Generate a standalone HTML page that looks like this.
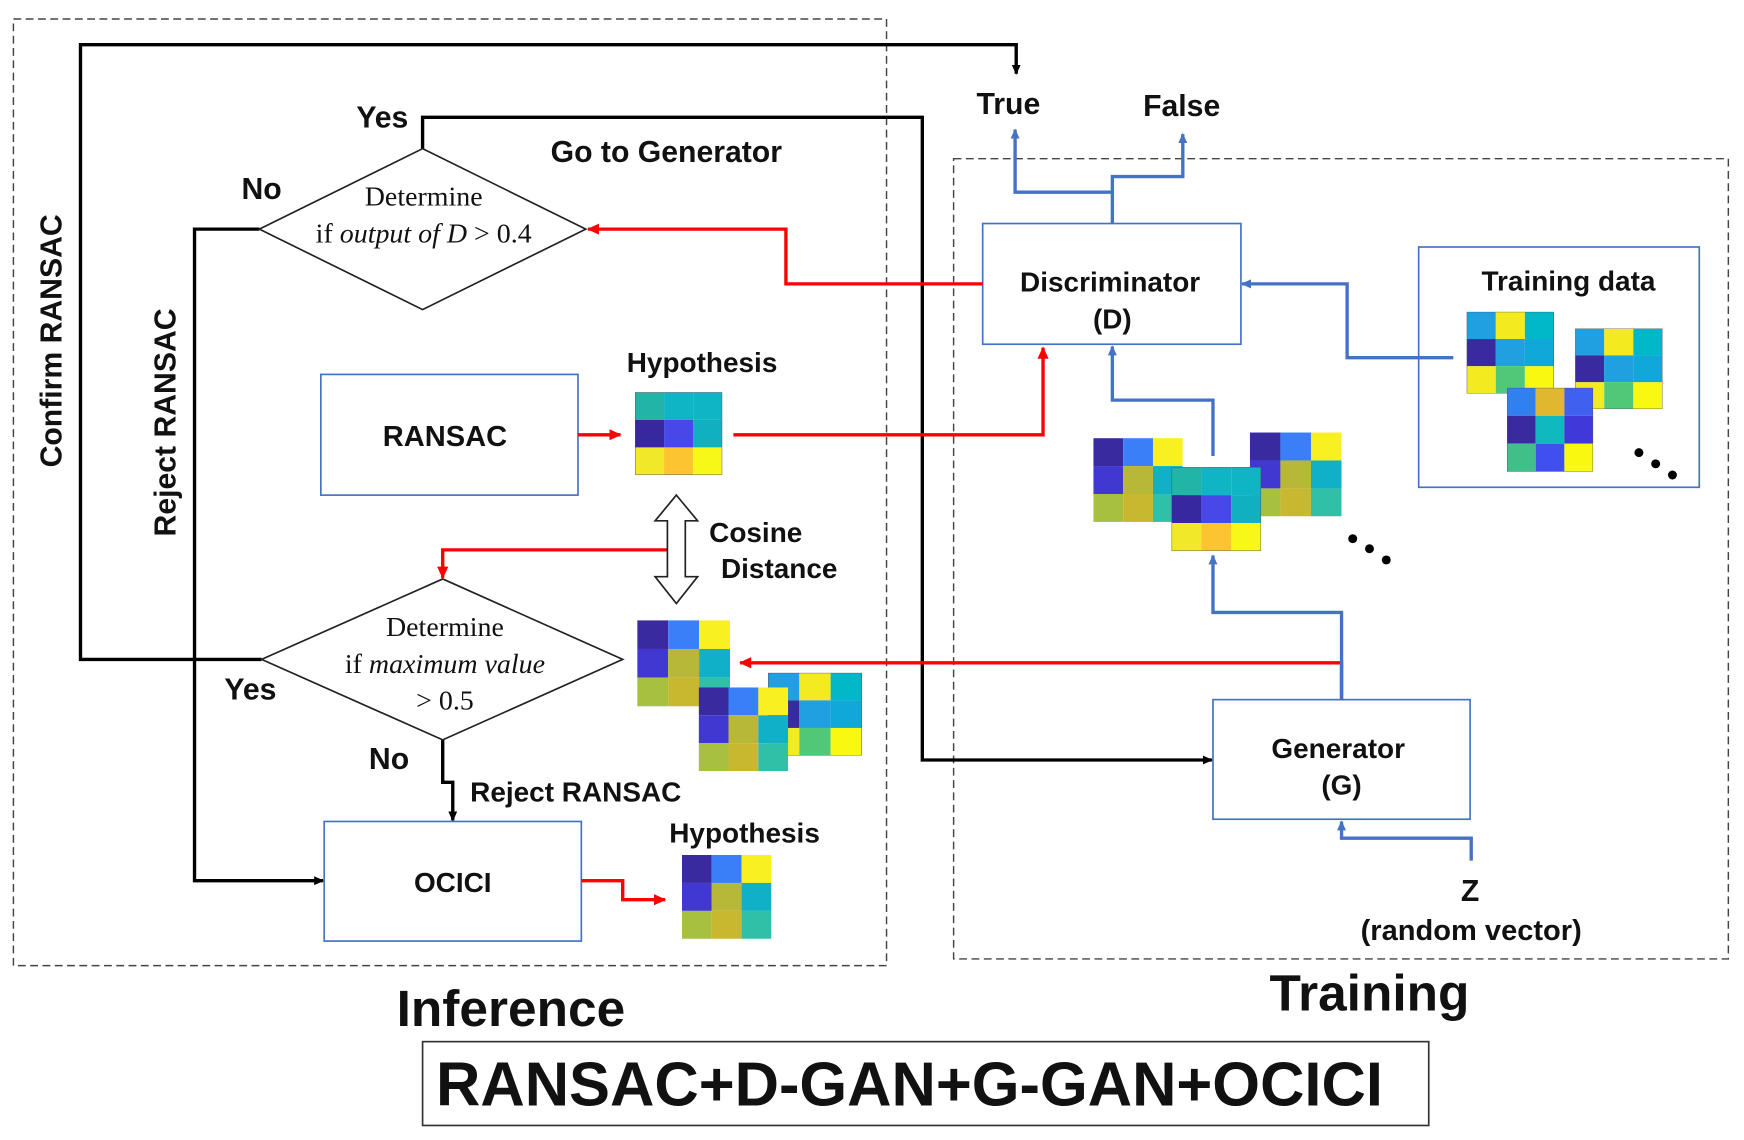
<!DOCTYPE html>
<html><head><meta charset="utf-8"><style>
html,body{margin:0;padding:0;background:#fff;}
svg{display:block;}
.b{font-family:"Liberation Sans",sans-serif;font-weight:bold;fill:#111;}
.s{font-family:"Liberation Serif",serif;fill:#111;}
</style></head><body>
<svg width="1744" height="1140" viewBox="0 0 1560 1020" preserveAspectRatio="none" xmlns="http://www.w3.org/2000/svg">
<defs>
<marker id="ak" markerWidth="10" markerHeight="10" refX="8" refY="5" orient="auto" markerUnits="userSpaceOnUse"><path d="M0,1 L9,5 L0,9z" fill="#000"/></marker>
<marker id="ar" markerWidth="12" markerHeight="12" refX="10" refY="6" orient="auto" markerUnits="userSpaceOnUse"><path d="M0,1 L11,6 L0,11z" fill="#f00"/></marker>
<marker id="ab" markerWidth="10" markerHeight="10" refX="8" refY="5" orient="auto" markerUnits="userSpaceOnUse"><path d="M0,1 L9,5 L0,9z" fill="#4472c4"/></marker>
<symbol id="mA" viewBox="0 0 3 3" preserveAspectRatio="none">
<rect x="0" y="0" width="1" height="1" fill="#22b4a6"/><rect x="1" y="0" width="1" height="1" fill="#10b5c5"/><rect x="2" y="0" width="1" height="1" fill="#10b5c5"/>
<rect x="0" y="1" width="1" height="1" fill="#3828a0"/><rect x="1" y="1" width="1" height="1" fill="#4848e8"/><rect x="2" y="1" width="1" height="1" fill="#10b0c0"/>
<rect x="0" y="2" width="1" height="1" fill="#f2e82a"/><rect x="1" y="2" width="1" height="1" fill="#fbc430"/><rect x="2" y="2" width="1" height="1" fill="#f8f818"/>
<rect x="0" y="0" width="3" height="3" fill="none" stroke="#555" stroke-width="0.03"/></symbol>
<symbol id="mB" viewBox="0 0 3 3" preserveAspectRatio="none">
<rect x="0" y="0" width="1" height="1" fill="#3a2aa0"/><rect x="1" y="0" width="1" height="1" fill="#3a7ef8"/><rect x="2" y="0" width="1" height="1" fill="#f8f020"/>
<rect x="0" y="1" width="1" height="1" fill="#4038d0"/><rect x="1" y="1" width="1" height="1" fill="#b8b838"/><rect x="2" y="1" width="1" height="1" fill="#10b0c8"/>
<rect x="0" y="2" width="1" height="1" fill="#a8c040"/><rect x="1" y="2" width="1" height="1" fill="#c8b830"/><rect x="2" y="2" width="1" height="1" fill="#30c0a8"/></symbol>
<symbol id="mC" viewBox="0 0 3 3" preserveAspectRatio="none">
<rect x="0" y="0" width="1" height="1" fill="#20a0e0"/><rect x="1" y="0" width="1" height="1" fill="#f4ea20"/><rect x="2" y="0" width="1" height="1" fill="#00b8c8"/>
<rect x="0" y="1" width="1" height="1" fill="#3a2aa0"/><rect x="1" y="1" width="1" height="1" fill="#20a0e0"/><rect x="2" y="1" width="1" height="1" fill="#10a8d8"/>
<rect x="0" y="2" width="1" height="1" fill="#f4ea20"/><rect x="1" y="2" width="1" height="1" fill="#50c878"/><rect x="2" y="2" width="1" height="1" fill="#f8f810"/>
<rect x="0" y="0" width="3" height="3" fill="none" stroke="#555" stroke-width="0.03"/></symbol>
<symbol id="mD" viewBox="0 0 3 3" preserveAspectRatio="none">
<rect x="0" y="0" width="1" height="1" fill="#3080f0"/><rect x="1" y="0" width="1" height="1" fill="#e0b830"/><rect x="2" y="0" width="1" height="1" fill="#4060f0"/>
<rect x="0" y="1" width="1" height="1" fill="#3a2aa0"/><rect x="1" y="1" width="1" height="1" fill="#10b8c0"/><rect x="2" y="1" width="1" height="1" fill="#4038d8"/>
<rect x="0" y="2" width="1" height="1" fill="#40c088"/><rect x="1" y="2" width="1" height="1" fill="#4050f0"/><rect x="2" y="2" width="1" height="1" fill="#f8f810"/>
<rect x="0" y="0" width="3" height="3" fill="none" stroke="#555" stroke-width="0.03"/></symbol>
</defs>

<rect x="12" y="17" width="781" height="847" fill="none" stroke="#444" stroke-width="1.3" stroke-dasharray="7,4"/>
<rect x="853" y="142" width="693" height="716" fill="none" stroke="#444" stroke-width="1.3" stroke-dasharray="7,4"/>

<polyline points="234,590 72,590 72,40 909,40 909,66" fill="none" stroke="#000" stroke-width="3" marker-end="url(#ak)"/>
<polyline points="378,133 378,105 825,105 825,680 1084,680" fill="none" stroke="#000" stroke-width="3" marker-end="url(#ak)"/>
<polyline points="232,205 174,205 174,788 289,788" fill="none" stroke="#000" stroke-width="3" marker-end="url(#ak)"/>
<polyline points="396,662 396,700 405,700 405,734" fill="none" stroke="#000" stroke-width="3" marker-end="url(#ak)"/>

<polygon points="378,133 524,205 378,277 232,205" fill="#fff" stroke="#222" stroke-width="1.5"/>
<polygon points="396,518 557,590 396,662 234,590" fill="#fff" stroke="#222" stroke-width="1.5"/>
<text class="s" x="379" y="184" font-size="25" text-anchor="middle">Determine</text>
<text class="s" x="379" y="217" font-size="25" text-anchor="middle">if <tspan font-style="italic">output of D</tspan> &gt; 0.4</text>
<text class="s" x="398" y="569" font-size="25" text-anchor="middle">Determine</text>
<text class="s" x="398" y="602" font-size="25" text-anchor="middle">if <tspan font-style="italic">maximum value</tspan></text>
<text class="s" x="398" y="635" font-size="25" text-anchor="middle">&gt; 0.5</text>

<rect x="287" y="335" width="230" height="108" fill="#fff" stroke="#4472c4" stroke-width="1.5"/>
<rect x="290" y="735" width="230" height="107" fill="#fff" stroke="#4472c4" stroke-width="1.5"/>
<rect x="879" y="200" width="231" height="108" fill="#fff" stroke="#4472c4" stroke-width="1.5"/>
<rect x="1085" y="626" width="230" height="107" fill="#fff" stroke="#4472c4" stroke-width="1.5"/>
<rect x="1269" y="221" width="251" height="215" fill="#fff" stroke="#4472c4" stroke-width="1.5"/>

<polyline points="879,254 703,254 703,205 526,205" fill="none" stroke="#f00" stroke-width="3" marker-end="url(#ar)"/>
<polyline points="517,389 555,389" fill="none" stroke="#f00" stroke-width="3" marker-end="url(#ar)"/>
<polyline points="656,389 933,389 933,311" fill="none" stroke="#f00" stroke-width="3" marker-end="url(#ar)"/>
<polyline points="597,492 396,492 396,517" fill="none" stroke="#f00" stroke-width="3" marker-end="url(#ar)"/>
<polyline points="1200,626 1200,593 662,593" fill="none" stroke="#f00" stroke-width="3" marker-end="url(#ar)"/>
<polyline points="520,788 557,788 557,805 595,805" fill="none" stroke="#f00" stroke-width="3" marker-end="url(#ar)"/>

<polyline points="995,200 995,172 908,172 908,116" fill="none" stroke="#4472c4" stroke-width="3" marker-end="url(#ab)"/>
<polyline points="995,172 995,158 1058,158 1058,120" fill="none" stroke="#4472c4" stroke-width="3" marker-end="url(#ab)"/>
<polyline points="1300,320 1205,320 1205,254 1111,254" fill="none" stroke="#4472c4" stroke-width="3" marker-end="url(#ab)"/>
<polyline points="1085,408 1085,358 995,358 995,310" fill="none" stroke="#4472c4" stroke-width="3" marker-end="url(#ab)"/>
<polyline points="1200,626 1200,548 1085,548 1085,497" fill="none" stroke="#4472c4" stroke-width="3" marker-end="url(#ab)"/>
<polyline points="1316,770 1316,750 1200,750 1200,735" fill="none" stroke="#4472c4" stroke-width="3" marker-end="url(#ab)"/>

<polygon points="605,443 624,466 613,466 613,516 624,516 605,540 586,516 597,516 597,466 586,466" fill="#fff" stroke="#222" stroke-width="1.5"/>

<use href="#mA" x="568" y="351" width="78" height="74"/>
<use href="#mB" x="570" y="555" width="83" height="77"/>
<use href="#mC" x="687" y="602" width="84" height="74"/>
<use href="#mB" x="625" y="615" width="80" height="75"/>
<use href="#mB" x="610" y="765" width="80" height="75"/>
<use href="#mB" x="978" y="392" width="80" height="75"/>
<use href="#mB" x="1118" y="387" width="82" height="75"/>
<use href="#mA" x="1048" y="418" width="80" height="75"/>
<use href="#mC" x="1312" y="279" width="78" height="73"/>
<use href="#mC" x="1409" y="294" width="78" height="72"/>
<use href="#mD" x="1348" y="347" width="77" height="75"/>
<circle cx="1466" cy="405" r="4" fill="#000"/><circle cx="1481" cy="415" r="4" fill="#000"/><circle cx="1496" cy="425" r="4" fill="#000"/>
<circle cx="1210" cy="482" r="4" fill="#000"/><circle cx="1225" cy="491" r="4" fill="#000"/><circle cx="1240" cy="501" r="4" fill="#000"/>

<text class="b" x="342" y="114" font-size="27" text-anchor="middle">Yes</text>
<text class="b" x="234" y="178" font-size="27" text-anchor="middle">No</text>
<text class="b" x="596" y="145" font-size="27" text-anchor="middle">Go to Generator</text>
<text class="b" x="628" y="333" font-size="25" text-anchor="middle">Hypothesis</text>
<text class="b" x="398" y="399" font-size="26" text-anchor="middle">RANSAC</text>
<text class="b" x="676" y="485" font-size="25" text-anchor="middle">Cosine</text>
<text class="b" x="697" y="517" font-size="25" text-anchor="middle">Distance</text>
<text class="b" x="224" y="626" font-size="27" text-anchor="middle">Yes</text>
<text class="b" x="348" y="688" font-size="27" text-anchor="middle">No</text>
<text class="b" x="515" y="717" font-size="25" text-anchor="middle">Reject RANSAC</text>
<text class="b" x="666" y="754" font-size="25" text-anchor="middle">Hypothesis</text>
<text class="b" x="405" y="798" font-size="25" text-anchor="middle">OCICI</text>
<text class="b" x="902" y="102" font-size="27" text-anchor="middle">True</text>
<text class="b" x="1057" y="104" font-size="27" text-anchor="middle">False</text>
<text class="b" x="993" y="261" font-size="25" text-anchor="middle">Discriminator</text>
<text class="b" x="995" y="294" font-size="25" text-anchor="middle">(D)</text>
<text class="b" x="1403" y="260" font-size="25" text-anchor="middle">Training data</text>
<text class="b" x="1197" y="678" font-size="25" text-anchor="middle">Generator</text>
<text class="b" x="1200" y="711" font-size="25" text-anchor="middle">(G)</text>
<text class="b" x="1315" y="806" font-size="27" text-anchor="middle">Z</text>
<text class="b" x="1316" y="841" font-size="26" text-anchor="middle">(random vector)</text>
<text class="b" transform="translate(55,305) rotate(-90)" font-size="27" text-anchor="middle">Confirm RANSAC</text>
<text class="b" transform="translate(157,378) rotate(-90)" font-size="27" text-anchor="middle">Reject RANSAC</text>
<text class="b" x="457" y="918" font-size="46" text-anchor="middle">Inference</text>
<text class="b" x="1225" y="904" font-size="46" text-anchor="middle">Training</text>
<rect x="378" y="932" width="900" height="75" fill="none" stroke="#333" stroke-width="1.5"/>
<text class="b" x="390" y="989" font-size="56" textLength="847" lengthAdjust="spacingAndGlyphs">RANSAC+D-GAN+G-GAN+OCICI</text>
</svg>
</body></html>
